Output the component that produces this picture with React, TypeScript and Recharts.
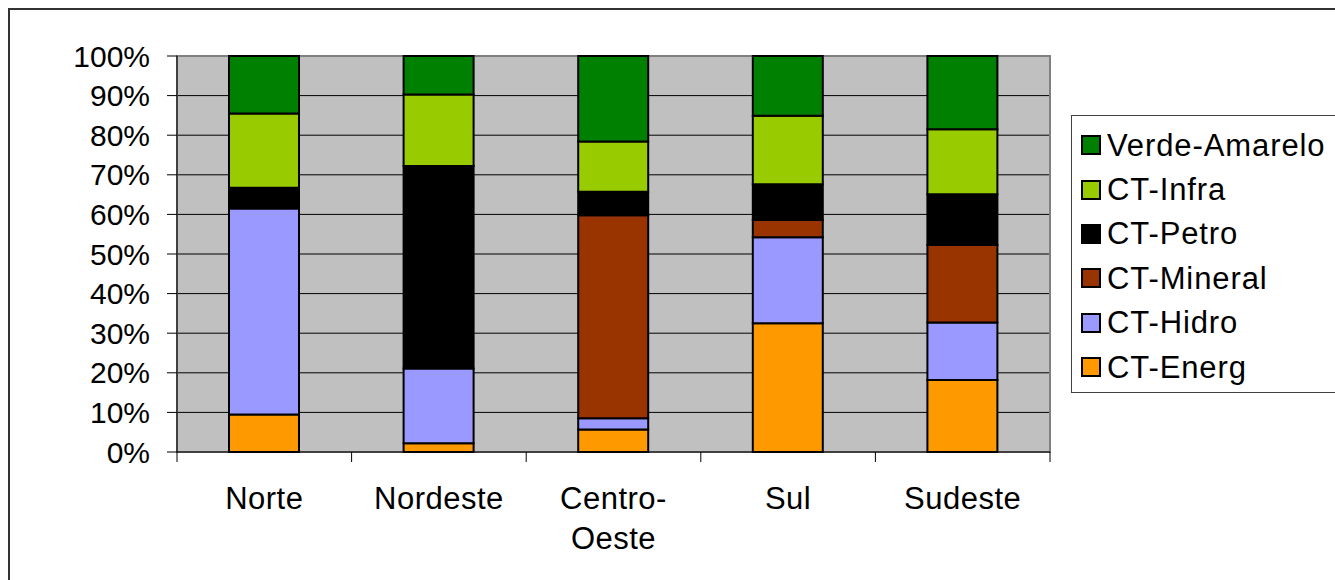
import React from 'react';
import { BarChart, Bar, XAxis, YAxis, CartesianGrid, Legend, ReferenceArea } from 'recharts';

const categories = ['Norte', 'Nordeste', 'Centro-Oeste', 'Sul', 'Sudeste'];
const tickLines: Record<string, string[]> = {
  'Norte': ['Norte'],
  'Nordeste': ['Nordeste'],
  'Centro-Oeste': ['Centro-', 'Oeste'],
  'Sul': ['Sul'],
  'Sudeste': ['Sudeste'],
};

const ctEnerg = [9.5, 2.2, 5.7, 32.5, 18.2];
const ctHidro = [52.0, 18.9, 2.8, 21.7, 14.5];
const ctMineral = [0, 0, 51.3, 4.4, 19.6];
const ctPetro = [5.2, 51.1, 5.9, 9.0, 12.8];
const ctInfra = [18.8, 18.1, 12.7, 17.3, 16.4];
const verdeAmarelo = [14.5, 9.7, 21.6, 15.1, 18.5];

const yTicks = [0, 10, 20, 30, 40, 50, 60, 70, 80, 90, 100];

const series = [
  { key: 'energ', name: 'CT-Energ', color: '#FF9900', values: ctEnerg },
  { key: 'hidro', name: 'CT-Hidro', color: '#9999FF', values: ctHidro },
  { key: 'mineral', name: 'CT-Mineral', color: '#993300', values: ctMineral },
  { key: 'petro', name: 'CT-Petro', color: '#000000', values: ctPetro },
  { key: 'infra', name: 'CT-Infra', color: '#99CC00', values: ctInfra },
  { key: 'verde', name: 'Verde-Amarelo', color: '#008000', values: verdeAmarelo },
];

const data = categories.map((c, i) => {
  const row: Record<string, any> = { cat: c };
  series.forEach((s) => { row[s.key] = s.values[i]; });
  return row;
});

const FONT = '"Liberation Sans", Arial, sans-serif';
const TICK_MARGIN = 35;
const TICK_LEN = 10;

const CatTick = (props: any) => {
  const { x, y, payload, index, visibleTicksCount } = props;
  const lines = tickLines[payload.value] || [payload.value];
  const half = payload.offset || 0;
  const axisY = y - TICK_MARGIN;
  return (
    <g>
      <line x1={x - half} x2={x - half} y1={axisY} y2={axisY + TICK_LEN} stroke="#000" strokeWidth={1} />
      {index === visibleTicksCount - 1 && (
        <line x1={x + half} x2={x + half} y1={axisY} y2={axisY + TICK_LEN} stroke="#000" strokeWidth={1} />
      )}
      <text x={x} y={y} textAnchor="middle" fontFamily={FONT} fontSize={31} letterSpacing={0.5} fill="#000">
        {lines.map((l, i) => (
          <tspan key={i} x={x} dy={i === 0 ? '0.71em' : 40}>{l}</tspan>
        ))}
      </text>
    </g>
  );
};

const LegendContent = () => (
  <div
    style={{
      border: '1px solid #404040',
      background: '#fff',
      width: 300,
      height: 278,
      boxSizing: 'border-box',
      paddingTop: 7,
      paddingLeft: 9,
      fontFamily: FONT,
      fontSize: 31,
      letterSpacing: 0.9,
    }}
  >
    {[...series].reverse().map((s) => (
      <div key={s.key} style={{ display: 'flex', alignItems: 'center', height: 44.4 }}>
        <span
          style={{
            display: 'inline-block',
            width: 20,
            height: 20,
            boxSizing: 'border-box',
            background: s.color,
            border: '2px solid #000',
            marginRight: 6,
            flexShrink: 0,
          }}
        />
        <span style={{ lineHeight: '31px', whiteSpace: 'nowrap' }}>{s.name}</span>
      </div>
    ))}
  </div>
);

export default function App() {
  return (
    <div style={{ position: 'absolute', left: 0, top: 0, width: 1335, height: 580, overflow: 'hidden', background: '#fff' }}>
      <div
        style={{
          position: 'absolute',
          left: 8,
          top: 8,
          width: 1400,
          height: 700,
          borderLeft: '2px solid #333',
          borderTop: '2px solid #333',
        }}
      />
      <div style={{ position: 'absolute', left: 0, top: 0 }}>
        <BarChart
          width={1335}
          height={580}
          data={data}
          margin={{ top: 56, right: 285, bottom: 0, left: 0 }}
          barSize={70}
        >
          <CartesianGrid vertical={false} stroke="#000" strokeOpacity={1} fill="#C0C0C0" fillOpacity={1} />
          <ReferenceArea y1={0} y2={100} fill="none" stroke="#808080" strokeWidth={2} ifOverflow="visible" />
          <XAxis
            dataKey="cat"
            height={128}
            tickLine={false}
            tickSize={0}
            tickMargin={TICK_MARGIN}
            axisLine={{ stroke: '#000', strokeWidth: 1 }}
            tick={<CatTick />}
            interval={0}
          />
          <YAxis
            width={177}
            domain={[0, 100]}
            ticks={yTicks}
            tickFormatter={(v: number) => `${v}%`}
            tickSize={10}
            tickMargin={17}
            axisLine={{ stroke: '#000' }}
            tickLine={{ stroke: '#000' }}
            tick={{ fontFamily: FONT, fontSize: 30, fill: '#000' }}
            interval={0}
          />
          {series.map((s) => (
            <Bar
              key={s.key}
              dataKey={s.key}
              name={s.name}
              stackId="a"
              fill={s.color}
              stroke="#000"
              strokeWidth={2}
              isAnimationActive={false}
            />
          ))}
          <Legend
            layout="vertical"
            align="center"
            verticalAlign="middle"
            content={<LegendContent />}
            wrapperStyle={{ position: 'absolute', left: 1071, top: 115, width: 300, height: 278, margin: 0 }}
          />
        </BarChart>
      </div>
    </div>
  );
}
